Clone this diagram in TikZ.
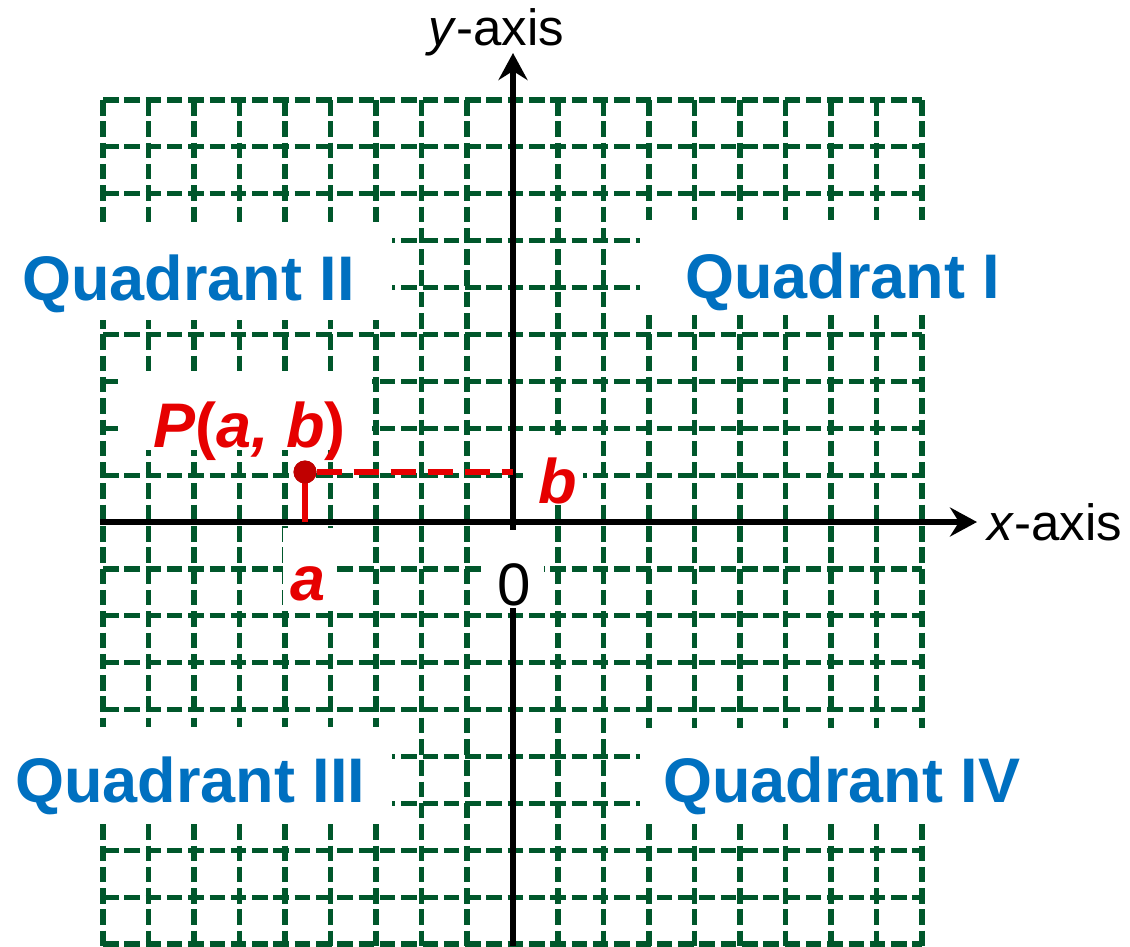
\documentclass[tikz,border=0pt]{standalone}
\usepackage{fontspec}
\setmainfont{Liberation Sans}
\usetikzlibrary{arrows.meta}
\definecolor{gridgreen}{RGB}{0,87,43}
\definecolor{quadblue}{RGB}{0,112,192}
\definecolor{ptred}{RGB}{230,0,0}
\definecolor{dotred}{RGB}{192,0,0}
\begin{document}
\begin{tikzpicture}[x=1pt,y=-1pt,
  gridline/.style={gridgreen, line width=5.2pt, dash pattern=on 15.5pt off 5.8pt},
  axisline/.style={black, line width=5.5pt, -{Stealth[length=27pt,width=29pt,inset=9pt]}},
  quad/.style={quadblue, font=\fontsize{63}{70}\selectfont\bfseries, anchor=base west, inner sep=0pt},
  ptlabel/.style={ptred, font=\fontsize{63}{70}\selectfont\bfseries, anchor=base west, inner sep=0pt},
  axlabel/.style={black, font=\fontsize{51}{56}\selectfont, anchor=base west, inner sep=0pt},
  mask/.style={fill=white},
  redline/.style={ptred, line width=5.2pt}]
\useasboundingbox (0,0) rectangle (1130,946);
% grid
\foreach \k in {0,...,18} \draw[gridline] (103,{100+\k*46.89}) -- (922,{100+\k*46.89});
\foreach \j in {0,...,18} \draw[gridline] ({103+\j*45.5},100) -- ({103+\j*45.5},946);
% white masks behind labels
\fill[mask] (0,222) rectangle (392,320);
\fill[mask] (640,220) rectangle (1045,315);
\fill[mask] (0,727) rectangle (392,824);
\fill[mask] (640,728) rectangle (1045,823);
\fill[mask] (118,372) rectangle (372,450);
\fill[mask] (523,435) rectangle (583,505);
\fill[mask] (283,528) rectangle (335,605);
% axes
\coordinate (xl) at (100,522);
\coordinate (xr) at (977,522);
\coordinate (yb) at (513,946);
\coordinate (yt) at (513,53);
\draw[axisline] (xl) -- (xr);
\draw[axisline] (yb) -- (yt);
\fill[mask] (482,530) rectangle (544,608);
% point P
\coordinate (Pa) at (305,522);
\coordinate (Pb) at (513,472);
\node[circle, fill=dotred, inner sep=0pt, minimum size=23pt] (P) at (305,472) {};
\draw[redline] (P.center) -- (Pa);
\draw[redline, dash pattern=on 25pt off 12pt] (P.east) -- (Pb);
\node[circle, fill=dotred, inner sep=0pt, minimum size=23pt] (Pdot) at (305,472) {};
% labels
\node[axlabel] (ylab) at (428,45) {\textit{y}-axis};
\node[axlabel] (xlab) at (987,540) {\textit{x}-axis};
\node[quad] (q2) at (22,300) {Quadrant II};
\node[quad] (q1) at (685,298) {Quadrant I};
\node[quad] (q3) at (15,802) {Quadrant III};
\node[quad] (q4) at (663,802) {Quadrant IV};
\node[ptlabel] (plab) at (153,447) {\textit{P}(\textit{a, b})};
\node[ptlabel] (alab) at (290,600) {\textit{a}};
\node[ptlabel] (blab) at (538,503) {\textit{b}};
\node[black, font=\fontsize{60}{66}\selectfont, anchor=base west, inner sep=0pt] (zero) at (497,605) {0};
\end{tikzpicture}
\end{document}
